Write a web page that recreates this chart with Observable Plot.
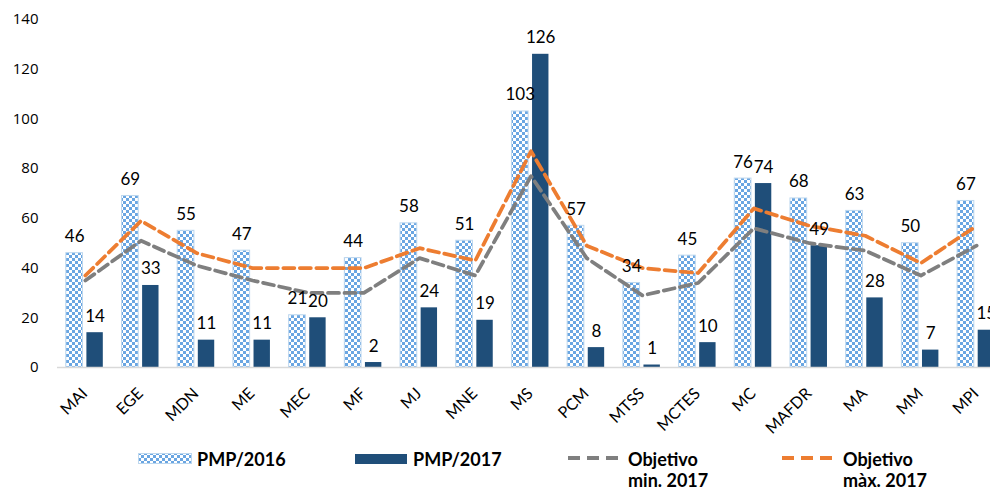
<!DOCTYPE html>
<html><head><meta charset="utf-8">
<script src="https://cdn.jsdelivr.net/npm/d3@7"></script>
<script src="https://cdn.jsdelivr.net/npm/@observablehq/plot@0.6"></script>
<style>
html,body{margin:0;padding:0;overflow:hidden;background:#fff;width:990px;height:491px;}
#wrap{position:relative;width:990px;height:491px;overflow:hidden;}
#chart{position:absolute;left:0;top:0;width:1006px;}
#chart svg{max-width:none !important;}
#legend{position:absolute;left:0;top:440px;}
</style></head><body>
<svg width="0" height="0" style="position:absolute">
  <defs>
    <pattern id="chk" patternUnits="userSpaceOnUse" width="6" height="6">
      <rect x="0" y="0" width="6" height="6" fill="#ffffff"></rect>
      <rect x="0" y="0" width="3" height="3" fill="#6aa6e2"></rect>
      <rect x="3" y="3" width="3" height="3" fill="#6aa6e2"></rect>
    </pattern>
  </defs>
</svg>
<div id="wrap"><div id="chart"></div><svg id="legend" width="990" height="51"></svg></div>
<script>
const categories = ["MAI","EGE","MDN","ME","MEC","MF","MJ","MNE","MS","PCM","MTSS","MCTES","MC","MAFDR","MA","MM","MPI"];
const pmp2016 = [46,69,55,47,21,44,58,51,103,57,34,45,76,68,63,50,67];
const pmp2017 = [14,33,11,11,20,2,24,19,126,8,1,10,74,49,28,7,15];
const objMin = [35,51,41,35,30,30,44,37,77,44,29,34,56,50,47,37,49];
const objMax = [37,59,46,40,40,40,48,43,87,49,40,38,64,57,53,42,57];
const yTicks = [0,20,40,60,80,100,120,140];
const seriesNames = ["PMP/2016","PMP/2017",["Objetivo","min. 2017"],["Objetivo","màx. 2017"]];

const rows = categories.map((c,i)=>({c, v16:pmp2016[i], v17:pmp2017[i], mn:objMin[i], mx:objMax[i]}));

const C16 = "url(#chk)", C16s = "#bdd7ee", C17 = "#1f4e79", CMIN = "#7f7f7f", CMAX = "#ed7d31";

const chart = Plot.plot({
  width: 1006, height: 440,
  marginTop: 19, marginBottom: 73, marginLeft: 57, marginRight: 2,
  x: {domain: categories, padding: 0, round: false, label: null, axis: null},
  y: {domain: [0,140], label: null},
  style: {fontFamily: "Lato", fontSize: "14px", color: "#000", background: "transparent", overflow: "visible", maxWidth: "none"},
  marks: [
    Plot.axisY({ticks: yTicks, tickSize: 0, tickPadding: 19, fontFamily: "Open Sans", fontSize: 15, label: null}),
    Plot.text(categories, {x: d => d, frameAnchor: "bottom", rotate: -45, textAnchor: "end", lineAnchor: "bottom", dx: 3, dy: 27, fontFamily: "Lato", fontSize: 16, fill: "#000"}),
    Plot.barY(rows, {x: "c", y: "v16", fill: C16, stroke: C16s, strokeWidth: 1, insetLeft: 8.8, insetRight: 30.2}),
    Plot.barY(rows, {x: "c", y: "v17", fill: C17, insetLeft: 29.4, insetRight: 9.9}),
    Plot.ruleY([0], {stroke: "#d9d9d9", strokeWidth: 1.5}),
    Plot.line(rows, {x: "c", y: "mn", stroke: CMIN, strokeWidth: 3.75, strokeDasharray: "11,5.5"}),
    Plot.line(rows, {x: "c", y: "mx", stroke: CMAX, strokeWidth: 3.75, strokeDasharray: "11,5.5"}),
    Plot.text(rows, {x: "c", y: "v16", text: d => String(d.v16), dx: -10.7, dy: -11, lineAnchor: "bottom", fontSize: 17, fontFamily: "Lato", fill: "#000"}),
    Plot.text(rows, {x: "c", y: "v17", text: d => String(d.v17), dx: 9.7, dy: -11, lineAnchor: "bottom", fontSize: 17, fontFamily: "Lato", fill: "#000"})
  ]
});
document.getElementById("chart").appendChild(chart);

// Legend
const lg = d3.select("#legend");
const tStyle = s => s.attr("font-family", "Lato").attr("font-weight", "bold").attr("font-size", 18).attr("fill", "#000");
lg.append("rect").attr("x", 138.5).attr("y", 13.5).attr("width", 53).attr("height", 10).attr("fill", C16).attr("stroke", C16s);
lg.append("text").attr("x", 197).attr("y", 26).text(seriesNames[0]).call(tStyle);
lg.append("rect").attr("x", 355).attr("y", 14).attr("width", 52).attr("height", 10).attr("fill", C17);
lg.append("text").attr("x", 413).attr("y", 26).text(seriesNames[1]).call(tStyle);
[[568, 628, CMIN, seriesNames[2]], [782, 843, CMAX, seriesNames[3]]].forEach(([sx, tx, col, lines]) => {
  lg.append("line").attr("x1", sx).attr("x2", sx + 50).attr("y1", 18).attr("y2", 18)
    .attr("stroke", col).attr("stroke-width", 4).attr("stroke-dasharray", "12,7");
  lines.forEach((l, i) => lg.append("text").attr("x", tx).attr("y", 26 + i * 21).text(l).call(tStyle));
});
</script>
</body></html>
